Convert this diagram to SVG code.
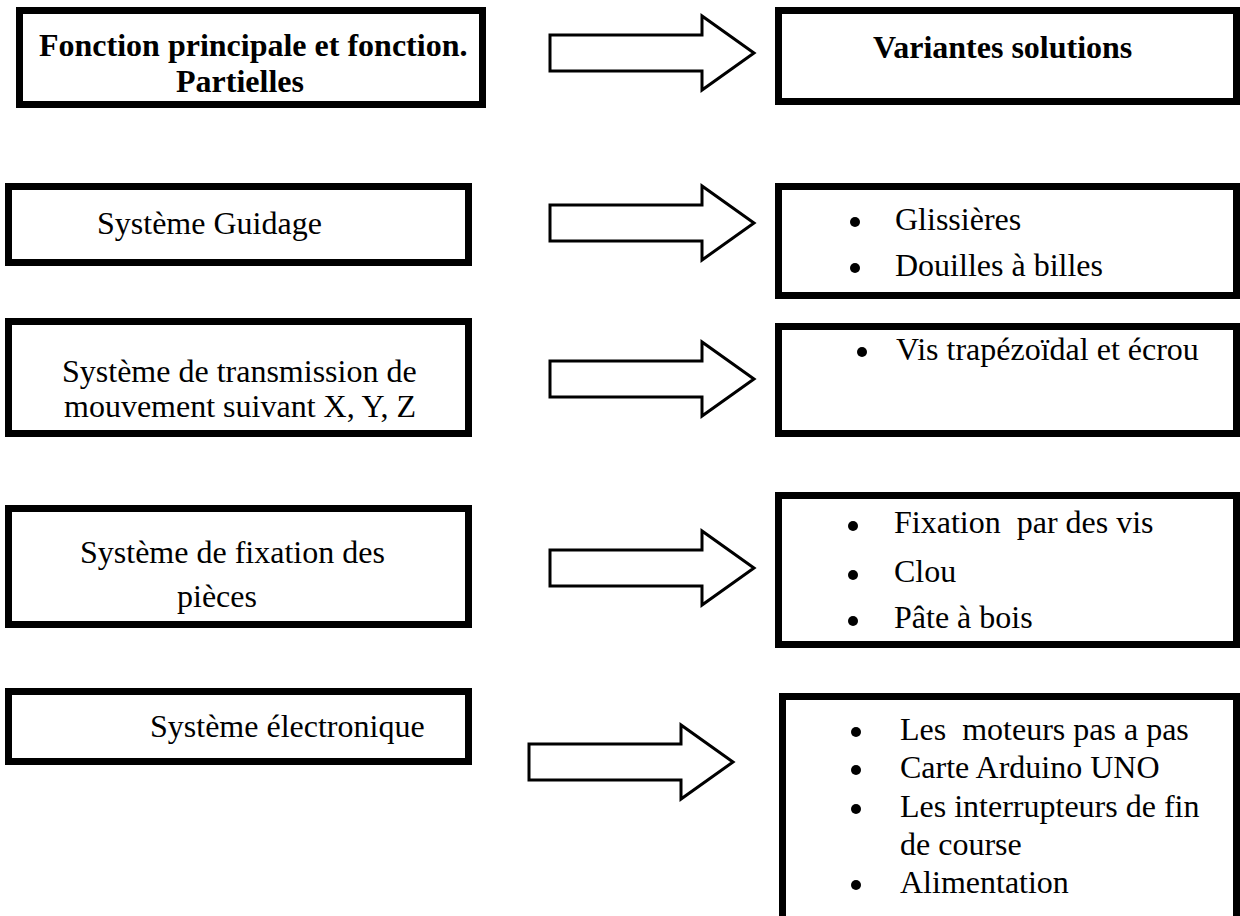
<svg xmlns="http://www.w3.org/2000/svg" width="1240" height="916" viewBox="0 0 1240 916">
<style>
.box{fill:#fff;stroke:#000;stroke-width:7}
.arr{fill:#fff;stroke:#000;stroke-width:3;stroke-linejoin:miter}
.t{font-family:"Liberation Serif","Times New Roman",serif;font-size:32px;fill:#000}
.b{font-weight:bold}
.dot{fill:#000}
</style>
<rect width="1240" height="916" fill="#fff"/>
<g id="connectors">
<path class="arr" d="M550,35 H702 V16 L754,53 L702,90 V71 H550 Z"/>
<path class="arr" d="M550,205 H702 V186 L754,223 L702,260 V241 H550 Z"/>
<path class="arr" d="M550,361 H702 V342 L754,379 L702,416 V397 H550 Z"/>
<path class="arr" d="M550,550 H702 V531 L754,568 L702,605 V586 H550 Z"/>
<path class="arr" d="M529,744 H681 V725 L733,762 L681,799 V780 H529 Z"/>
</g>
<g id="n1">
<rect class="box" x="19.5" y="10.5" width="463" height="94"/>
<text class="t b" x="39" y="56">Fonction principale et fonction.</text>
<text class="t b" x="176" y="92">Partielles</text>
</g>
<g id="n2">
<rect class="box" x="8.5" y="186.5" width="460" height="76"/>
<text class="t" x="97" y="234">Système Guidage</text>
</g>
<g id="n3">
<rect class="box" x="8.5" y="321.5" width="460" height="112"/>
<text class="t" x="62" y="382">Système de transmission de</text>
<text class="t" x="64" y="417">mouvement suivant X, Y, Z</text>
</g>
<g id="n4">
<rect class="box" x="8.5" y="508.5" width="460" height="116"/>
<text class="t" x="80" y="563">Système de fixation des</text>
<text class="t" x="177" y="607">pièces</text>
</g>
<g id="n5">
<rect class="box" x="8.5" y="691.5" width="460" height="70"/>
<text class="t" x="150" y="737">Système électronique</text>
</g>
<g id="s1">
<rect class="box" x="778.5" y="10.5" width="458" height="91"/>
<text class="t b" x="873" y="58">Variantes solutions</text>
</g>
<g id="s2">
<rect class="box" x="778.5" y="186.5" width="458" height="109"/>
<circle class="dot" cx="855" cy="222" r="5"/>
<text class="t" x="895" y="230">Glissières</text>
<circle class="dot" cx="855" cy="268" r="5"/>
<text class="t" x="895" y="276">Douilles à billes</text>
</g>
<g id="s3">
<rect class="box" x="778.5" y="326.5" width="458" height="107"/>
<circle class="dot" cx="862" cy="352" r="5"/>
<text class="t" x="896" y="360">Vis trapézoïdal et écrou</text>
</g>
<g id="s4">
<rect class="box" x="778.5" y="495.5" width="458" height="149"/>
<circle class="dot" cx="853" cy="526" r="5"/>
<text class="t" x="894" y="533" xml:space="preserve">Fixation  par des vis</text>
<circle class="dot" cx="853" cy="575" r="5"/>
<text class="t" x="894" y="582">Clou</text>
<circle class="dot" cx="853" cy="621" r="5"/>
<text class="t" x="894" y="628">Pâte à bois</text>
</g>
<g id="s5">
<rect class="box" x="782.5" y="696.5" width="454" height="240"/>
<circle class="dot" cx="856" cy="732" r="5"/>
<text class="t" x="900" y="740" xml:space="preserve">Les  moteurs pas a pas</text>
<circle class="dot" cx="856" cy="770" r="5"/>
<text class="t" x="900" y="778">Carte Arduino UNO</text>
<circle class="dot" cx="856" cy="809" r="5"/>
<text class="t" x="900" y="817">Les interrupteurs de fin</text>
<text class="t" x="900" y="855">de course</text>
<circle class="dot" cx="856" cy="885" r="5"/>
<text class="t" x="900" y="893">Alimentation</text>
</g>
</svg>
